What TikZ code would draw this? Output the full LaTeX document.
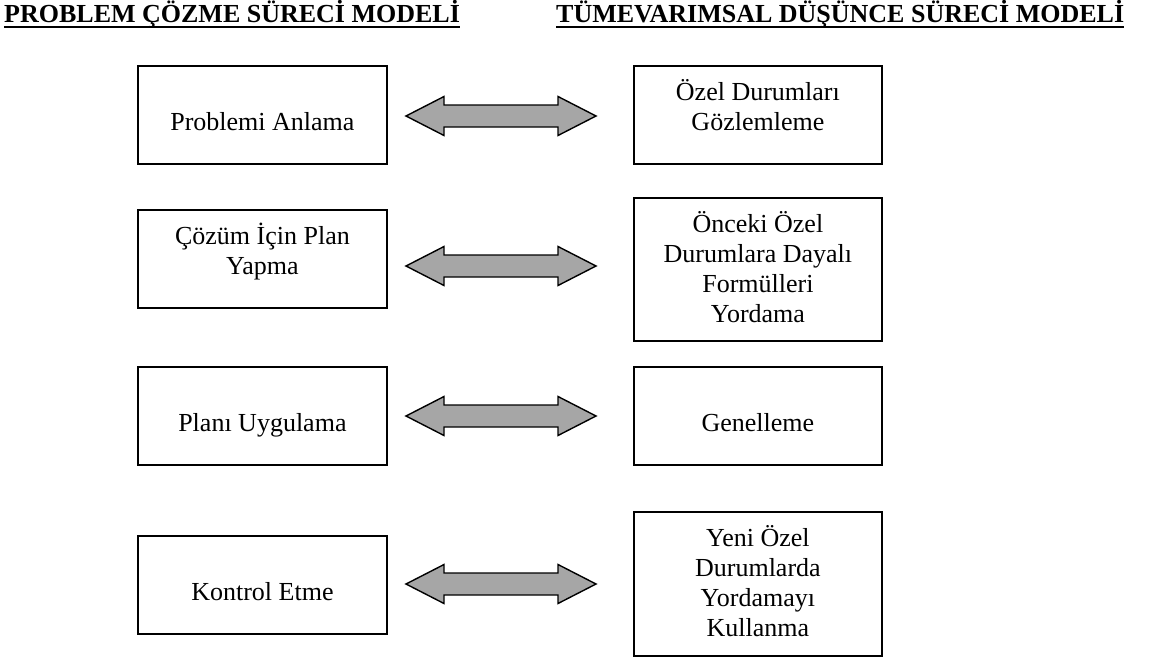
\documentclass[tikz,border=0pt]{standalone}
\usepackage{fontspec}
\setmainfont{Liberation Serif}
\usetikzlibrary{calc}
\definecolor{arrowgray}{RGB}{166,166,166}
\tikzset{
  stagebox/.style={draw=black, line width=1.8pt, inner sep=0pt, anchor=north west},
  stagetext/.style={anchor=north, inner sep=0pt, align=center,
    font=\fontsize{26}{30}\selectfont, yshift=-14pt},
  headtext/.style={anchor=base west, inner sep=0pt,
    font=\fontsize{26}{30}\selectfont\bfseries},
  headrule/.style={line width=2pt},
  arrowbody/.style={draw=black, line width=1.4pt, fill=arrowgray, line join=miter},
}
% two-headed block arrow between two named points on one horizontal line
\newcommand\dblarrow[2]{%
  \draw[arrowbody] (#1) -- ($(#1)+(38,-19.5)$) -- ($(#1)+(38,-11)$)
    -- ($(#2)+(-38,-11)$) -- ($(#2)+(-38,-19.5)$) -- (#2)
    -- ($(#2)+(-38,19.5)$) -- ($(#2)+(-38,11)$)
    -- ($(#1)+(38,11)$) -- ($(#1)+(38,19.5)$) -- cycle;}
\begin{document}
\begin{tikzpicture}[x=1pt, y=-1pt]
\useasboundingbox (0,0) rectangle (1153,656);

% column headings
\node[headtext] (h1) at (4,22) {PROBLEM ÇÖZME SÜRECİ MODELİ};
\node[headtext] (h2) at (556,22) {TÜMEVARIMSAL DÜŞÜNCE SÜRECİ MODELİ};
\draw[headrule] ([yshift=-5pt]h1.base west) -- ([yshift=-5pt]h1.base east);
\draw[headrule] ([yshift=-5pt]h2.base west) -- ([yshift=-5pt]h2.base east);

% problem solving stages
\node[stagebox, minimum width=249, minimum height=98] (L1) at (137,65) {};
\node[stagebox, minimum width=249, minimum height=98] (L2) at (137,209) {};
\node[stagebox, minimum width=249, minimum height=98] (L3) at (137,366) {};
\node[stagebox, minimum width=249, minimum height=98] (L4) at (137,535) {};
\node[stagetext] (L1t) at (L1.north) {\strut\\Problemi Anlama};
\node[stagetext] (L2t) at (L2.north) {Çözüm İçin Plan\\Yapma};
\node[stagetext] (L3t) at (L3.north) {\strut\\Planı Uygulama};
\node[stagetext] (L4t) at (L4.north) {\strut\\Kontrol Etme};

% inductive thinking stages
\node[stagebox, minimum width=248, minimum height=98] (R1) at (633,65) {};
\node[stagebox, minimum width=248, minimum height=143] (R2) at (633,197) {};
\node[stagebox, minimum width=248, minimum height=98] (R3) at (633,366) {};
\node[stagebox, minimum width=248, minimum height=144] (R4) at (633,511) {};
\node[stagetext] (R1t) at (R1.north) {Özel Durumları\\Gözlemleme};
\node[stagetext] (R2t) at (R2.north) {Önceki Özel\\Durumlara Dayalı\\Formülleri\\Yordama};
\node[stagetext] (R3t) at (R3.north) {\strut\\Genelleme};
\node[stagetext] (R4t) at (R4.north) {Yeni Özel\\Durumlarda\\Yordamayı\\Kullanma};

% arrow end points
\coordinate (a1l) at (406,116); \coordinate (a1r) at (596,116);
\coordinate (a2l) at (406,266); \coordinate (a2r) at (596,266);
\coordinate (a3l) at (406,416); \coordinate (a3r) at (596,416);
\coordinate (a4l) at (406,584); \coordinate (a4r) at (596,584);
\dblarrow{a1l}{a1r}
\dblarrow{a2l}{a2r}
\dblarrow{a3l}{a3r}
\dblarrow{a4l}{a4r}
\end{tikzpicture}
\end{document}
